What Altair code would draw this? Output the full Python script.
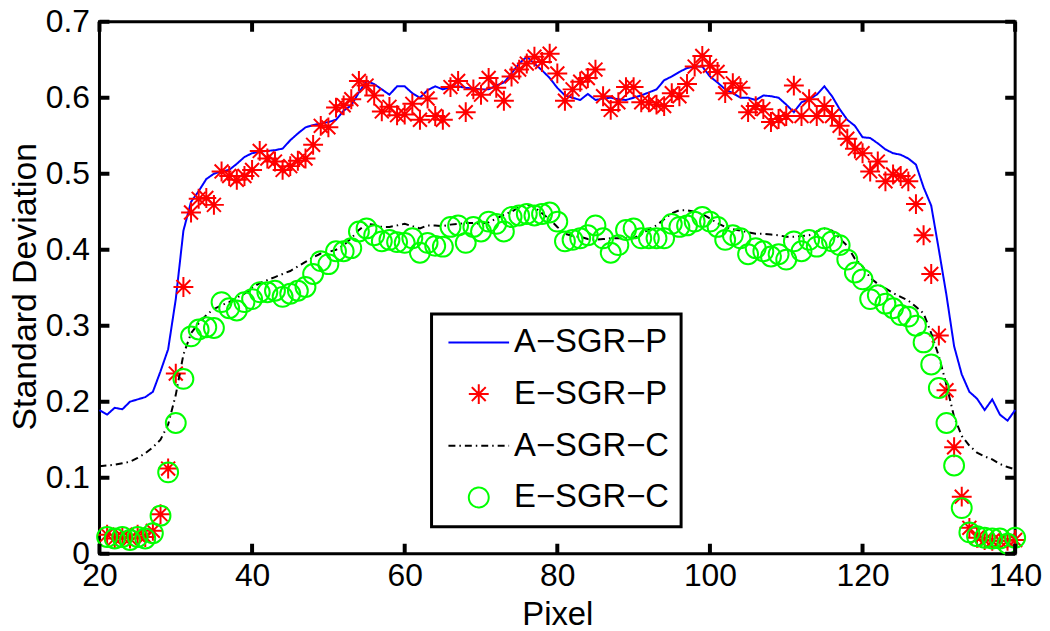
import altair as alt
import pandas as pd

# ---------------- data ----------------
x_line = list(range(20, 141))   # analytic curves
x_pts = list(range(21, 141))    # experimental points

a_sgr_p = [
    0.189, 0.183, 0.192, 0.190, 0.200, 0.203, 0.206, 0.213, 0.240, 0.269,
    0.335, 0.425, 0.463, 0.477, 0.493, 0.500, 0.503, 0.505, 0.513, 0.522,
    0.527, 0.529, 0.530, 0.531, 0.533, 0.544, 0.553, 0.561, 0.564, 0.566,
    0.568, 0.571, 0.583, 0.590, 0.607, 0.622, 0.618, 0.611, 0.604, 0.615,
    0.615, 0.606, 0.600, 0.610, 0.615, 0.611, 0.614, 0.615, 0.613, 0.612,
    0.611, 0.611, 0.616, 0.620, 0.632, 0.645, 0.654, 0.645, 0.636, 0.626,
    0.613, 0.603, 0.600, 0.597, 0.605, 0.597, 0.599, 0.600, 0.598, 0.597,
    0.600, 0.603, 0.607, 0.611, 0.623, 0.628, 0.634, 0.639, 0.641, 0.641,
    0.628, 0.620, 0.611, 0.606, 0.600, 0.600, 0.597, 0.603, 0.602, 0.600,
    0.591, 0.581, 0.594, 0.598, 0.604, 0.615, 0.602, 0.585, 0.571, 0.563,
    0.548, 0.547, 0.540, 0.532, 0.527, 0.525, 0.520, 0.512, 0.482, 0.458,
    0.400, 0.340, 0.273, 0.236, 0.213, 0.204, 0.189, 0.203, 0.183, 0.175,
    0.189,
]

a_sgr_c = [
    0.115, 0.116, 0.117, 0.119, 0.121, 0.126, 0.132, 0.140, 0.150, 0.170,
    0.209, 0.262, 0.290, 0.303, 0.314, 0.322, 0.327, 0.331, 0.337, 0.342,
    0.350, 0.356, 0.360, 0.364, 0.368, 0.372, 0.378, 0.384, 0.390, 0.395,
    0.397, 0.400, 0.406, 0.415, 0.426, 0.434, 0.433, 0.430, 0.430, 0.432,
    0.434, 0.431, 0.428, 0.432, 0.432, 0.431, 0.433, 0.434, 0.435, 0.435,
    0.434, 0.436, 0.441, 0.446, 0.450, 0.456, 0.460, 0.456, 0.448, 0.440,
    0.430, 0.421, 0.418, 0.417, 0.414, 0.413, 0.414, 0.415, 0.415, 0.415,
    0.415, 0.420, 0.427, 0.432, 0.440, 0.448, 0.452, 0.452, 0.450, 0.447,
    0.441, 0.435, 0.430, 0.427, 0.425, 0.423, 0.421, 0.421, 0.420, 0.419,
    0.417, 0.417, 0.418, 0.419, 0.424, 0.428, 0.425, 0.415, 0.405, 0.388,
    0.378, 0.363, 0.355, 0.349, 0.343, 0.338, 0.333, 0.325, 0.316, 0.290,
    0.260, 0.222, 0.180, 0.155, 0.142, 0.133, 0.128, 0.124, 0.118, 0.114,
    0.111,
]

e_sgr_p = [
    0.025, 0.020, 0.022, 0.020, 0.025, 0.022, 0.030, 0.052, 0.112,
    0.237, 0.351, 0.449, 0.467, 0.468, 0.459, 0.503, 0.497, 0.492, 0.497,
    0.505, 0.530, 0.520, 0.516, 0.505, 0.510, 0.517, 0.520, 0.538, 0.563,
    0.561, 0.587, 0.590, 0.598, 0.622, 0.616, 0.603, 0.582, 0.588, 0.577,
    0.578, 0.592, 0.571, 0.599, 0.576, 0.571, 0.614, 0.622, 0.581, 0.611,
    0.604, 0.626, 0.613, 0.596, 0.628, 0.637, 0.645, 0.654, 0.647, 0.658,
    0.632, 0.596, 0.611, 0.621, 0.626, 0.637, 0.602, 0.584, 0.594, 0.614,
    0.614, 0.594, 0.594, 0.591, 0.589, 0.606, 0.602, 0.618, 0.641, 0.655,
    0.642, 0.634, 0.606, 0.619, 0.613, 0.581, 0.589, 0.585, 0.568, 0.572,
    0.576, 0.616, 0.576, 0.598, 0.576, 0.589, 0.576, 0.563, 0.546, 0.533,
    0.527, 0.503, 0.516, 0.490, 0.499, 0.497, 0.490, 0.460, 0.419, 0.368,
    0.287, 0.215, 0.140, 0.075, 0.034, 0.021, 0.018, 0.017, 0.017, 0.017,
    0.018,
]

e_sgr_c = [
    0.022, 0.020, 0.022, 0.018, 0.022, 0.020, 0.027, 0.050, 0.107,
    0.172, 0.230, 0.286, 0.295, 0.298, 0.297, 0.331, 0.323, 0.320, 0.331,
    0.335, 0.344, 0.344, 0.346, 0.338, 0.342, 0.346, 0.351, 0.368, 0.385,
    0.381, 0.398, 0.398, 0.402, 0.424, 0.428, 0.419, 0.411, 0.413, 0.410,
    0.409, 0.415, 0.396, 0.409, 0.405, 0.404, 0.430, 0.432, 0.409, 0.430,
    0.424, 0.437, 0.434, 0.424, 0.443, 0.445, 0.447, 0.445, 0.447, 0.449,
    0.437, 0.411, 0.413, 0.415, 0.419, 0.432, 0.415, 0.396, 0.406, 0.426,
    0.428, 0.415, 0.415, 0.415, 0.415, 0.434, 0.430, 0.432, 0.437, 0.443,
    0.437, 0.430, 0.413, 0.419, 0.415, 0.394, 0.402, 0.398, 0.391, 0.394,
    0.387, 0.411, 0.398, 0.413, 0.404, 0.415, 0.411, 0.406, 0.387, 0.370,
    0.361, 0.335, 0.340, 0.329, 0.323, 0.314, 0.312, 0.300, 0.278, 0.249,
    0.218, 0.172, 0.116, 0.060, 0.028, 0.023, 0.021, 0.020, 0.020, 0.013,
    0.021,
]

series_names = ["A\u2212SGR\u2212P", "E\u2212SGR\u2212P", "A\u2212SGR\u2212C", "E\u2212SGR\u2212C"]
series_colors = ["#0000ff", "#ff0000", "#000000", "#00ff00"]
x_ticks = [20, 40, 60, 80, 100, 120, 140]
y_ticks = [0, 0.1, 0.2, 0.3, 0.4, 0.5, 0.6, 0.7]

# ---------------- styling ----------------
FONT = "Liberation Sans"
W, H = 921, 535
X_MIN, X_MAX, Y_MIN, Y_MAX = 20, 140, 0, 0.7
TICK_PX = 10
TICK_X = TICK_PX * (X_MAX - X_MIN) / W   # tick length in x data units
TICK_Y = TICK_PX * (Y_MAX - Y_MIN) / H   # tick length in y data units
ASTERISK = "M0,-1L0,1M-1,0L1,0M-0.7,-0.7L0.7,0.7M-0.7,0.7L0.7,-0.7"
CIRCLE = "M1,0A1,1,0,1,1,-1,0A1,1,0,1,1,1,0Z"
LEGEND_LINE = "M-3.05,0L3.05,0"
DASHDOT = [7, 4, 1.5, 4]
BOX = "box"   # internal group for the inward box ticks (not shown in legend)

# inward tick segments on the four sides of the box, as 2-point polylines
tick_rows = []
for i, v in enumerate(x_ticks):
    for k, (a, b) in enumerate([(Y_MIN, Y_MIN + TICK_Y), (Y_MAX, Y_MAX - TICK_Y)]):
        tid = f"x{i}_{k}"
        tick_rows.append({"X": v, "value": a, "series": BOX, "tid": tid})
        tick_rows.append({"X": v, "value": b, "series": BOX, "tid": tid})
for i, v in enumerate(y_ticks):
    for k, (a, b) in enumerate([(X_MIN, X_MIN + TICK_X), (X_MAX, X_MAX - TICK_X)]):
        tid = f"y{i}_{k}"
        tick_rows.append({"X": a, "value": v, "series": BOX, "tid": tid})
        tick_rows.append({"X": b, "value": v, "series": BOX, "tid": tid})

df_a = pd.concat([
    pd.DataFrame({
        "X": x_line + x_line,
        "value": a_sgr_p + a_sgr_c,
        "series": [series_names[0]] * len(x_line) + [series_names[2]] * len(x_line),
        "tid": ["none"] * (2 * len(x_line)),
    }),
    pd.DataFrame(tick_rows),
], ignore_index=True)
df_e = pd.DataFrame({
    "X": x_pts + x_pts,
    "value": e_sgr_p + e_sgr_c,
    "series": [series_names[1]] * len(x_pts) + [series_names[3]] * len(x_pts),
})
df_legend = pd.DataFrame({"series": series_names})

xs = alt.Scale(domain=[X_MIN, X_MAX], nice=False, zero=False)
ys = alt.Scale(domain=[Y_MIN, Y_MAX], nice=False, zero=False)

x_axis = alt.Axis(
    values=x_ticks, ticks=False, tickSize=0, domain=False, grid=False,
    labelFont=FONT, labelFontSize=32, labelColor="black", labelPadding=32,
    labelBaseline="alphabetic", labelFlush=False, labelOverlap=False,
    titleFont=FONT, titleFontSize=33, titleFontWeight="normal", titleColor="black",
    titleY=71, titleBaseline="alphabetic",
)
y_axis = alt.Axis(
    values=y_ticks, format=".1~f", ticks=False, tickSize=0, domain=False, grid=False,
    labelFont=FONT, labelFontSize=32, labelColor="black", labelPadding=10,
    labelBaseline="middle", labelFlush=False, labelOverlap=False,
    titleFont=FONT, titleFontSize=34, titleFontWeight="normal", titleColor="black",
    titleX=-64, titleY=266, titleAngle=270, titleBaseline="alphabetic", titleAlign="center",
)

X = alt.X("X:Q", scale=xs, axis=x_axis, title="Pixel")
Y = alt.Y("value:Q", scale=ys, axis=y_axis, title="Standard Deviation")

all_names = series_names + [BOX]
color_scale = alt.Scale(domain=all_names, range=series_colors + ["#000000"])
dash_scale = alt.Scale(domain=all_names, range=[[1, 0], [1, 0], DASHDOT, [1, 0], [1, 0]])
shape_scale = alt.Scale(domain=all_names, range=[LEGEND_LINE, ASTERISK, LEGEND_LINE, CIRCLE, LEGEND_LINE])

legend = alt.Legend(
    title=None, orient="none", legendX=334, legendY=294, direction="vertical",
    values=series_names,
    padding=12, symbolSize=400, symbolStrokeWidth=2, symbolOffset=19,
    labelOffset=19, rowPadding=18, labelFont=FONT, labelFontSize=33,
    labelColor="black", labelLimit=400, fillColor="white", strokeColor="black",
    labelExpr="datum.label + ' '",
)

# legend carrier layer: its symbols sit far left of the plot, outside the page
legend_layer = alt.Chart(df_legend).mark_point(
    filled=False, opacity=1, strokeWidth=2
).encode(
    x=alt.X(datum=X_MIN - 80, type="quantitative", scale=xs, axis=x_axis, title="Pixel"),
    y=alt.Y(datum=Y_MIN, type="quantitative", scale=ys, axis=y_axis, title="Standard Deviation"),
    color=alt.Color("series:N", scale=color_scale, legend=legend),
    shape=alt.Shape("series:N", scale=shape_scale, legend=legend),
    strokeDash=alt.StrokeDash("series:N", scale=dash_scale, legend=legend),
)


def line_layer(name, width=2, detail=False):
    enc = dict(
        x=X, y=Y,
        color=alt.Color("series:N", scale=color_scale, legend=None),
        strokeDash=alt.StrokeDash("series:N", scale=dash_scale, legend=None),
    )
    if detail:
        enc["detail"] = "tid:N"
    return alt.Chart(df_a).transform_filter(
        alt.datum.series == name
    ).mark_line(strokeWidth=width).encode(**enc)


def point_layer(name, shape, size):
    return alt.Chart(df_e).transform_filter(
        alt.datum.series == name
    ).mark_point(shape=shape, size=size, filled=False, strokeWidth=2, opacity=1).encode(
        x=X, y=Y,
        color=alt.Color("series:N", scale=color_scale, legend=None),
    )


chart = alt.layer(
    legend_layer,
    line_layer(series_names[0]),
    point_layer(series_names[1], ASTERISK, 400),
    line_layer(series_names[2]),
    point_layer(series_names[3], CIRCLE, 400),
    line_layer(BOX, width=4, detail=True),
).properties(
    width=W, height=H,
    autosize=alt.AutoSizeParams(type="none"),
    padding={"left": 92, "top": 12, "right": 27, "bottom": 82},
    background="white",
).configure_view(
    stroke="black", strokeWidth=3
).configure_legend(
    strokeWidth=3
)

chart.save("out.html", embed_options={"renderer": "svg", "actions": False})
